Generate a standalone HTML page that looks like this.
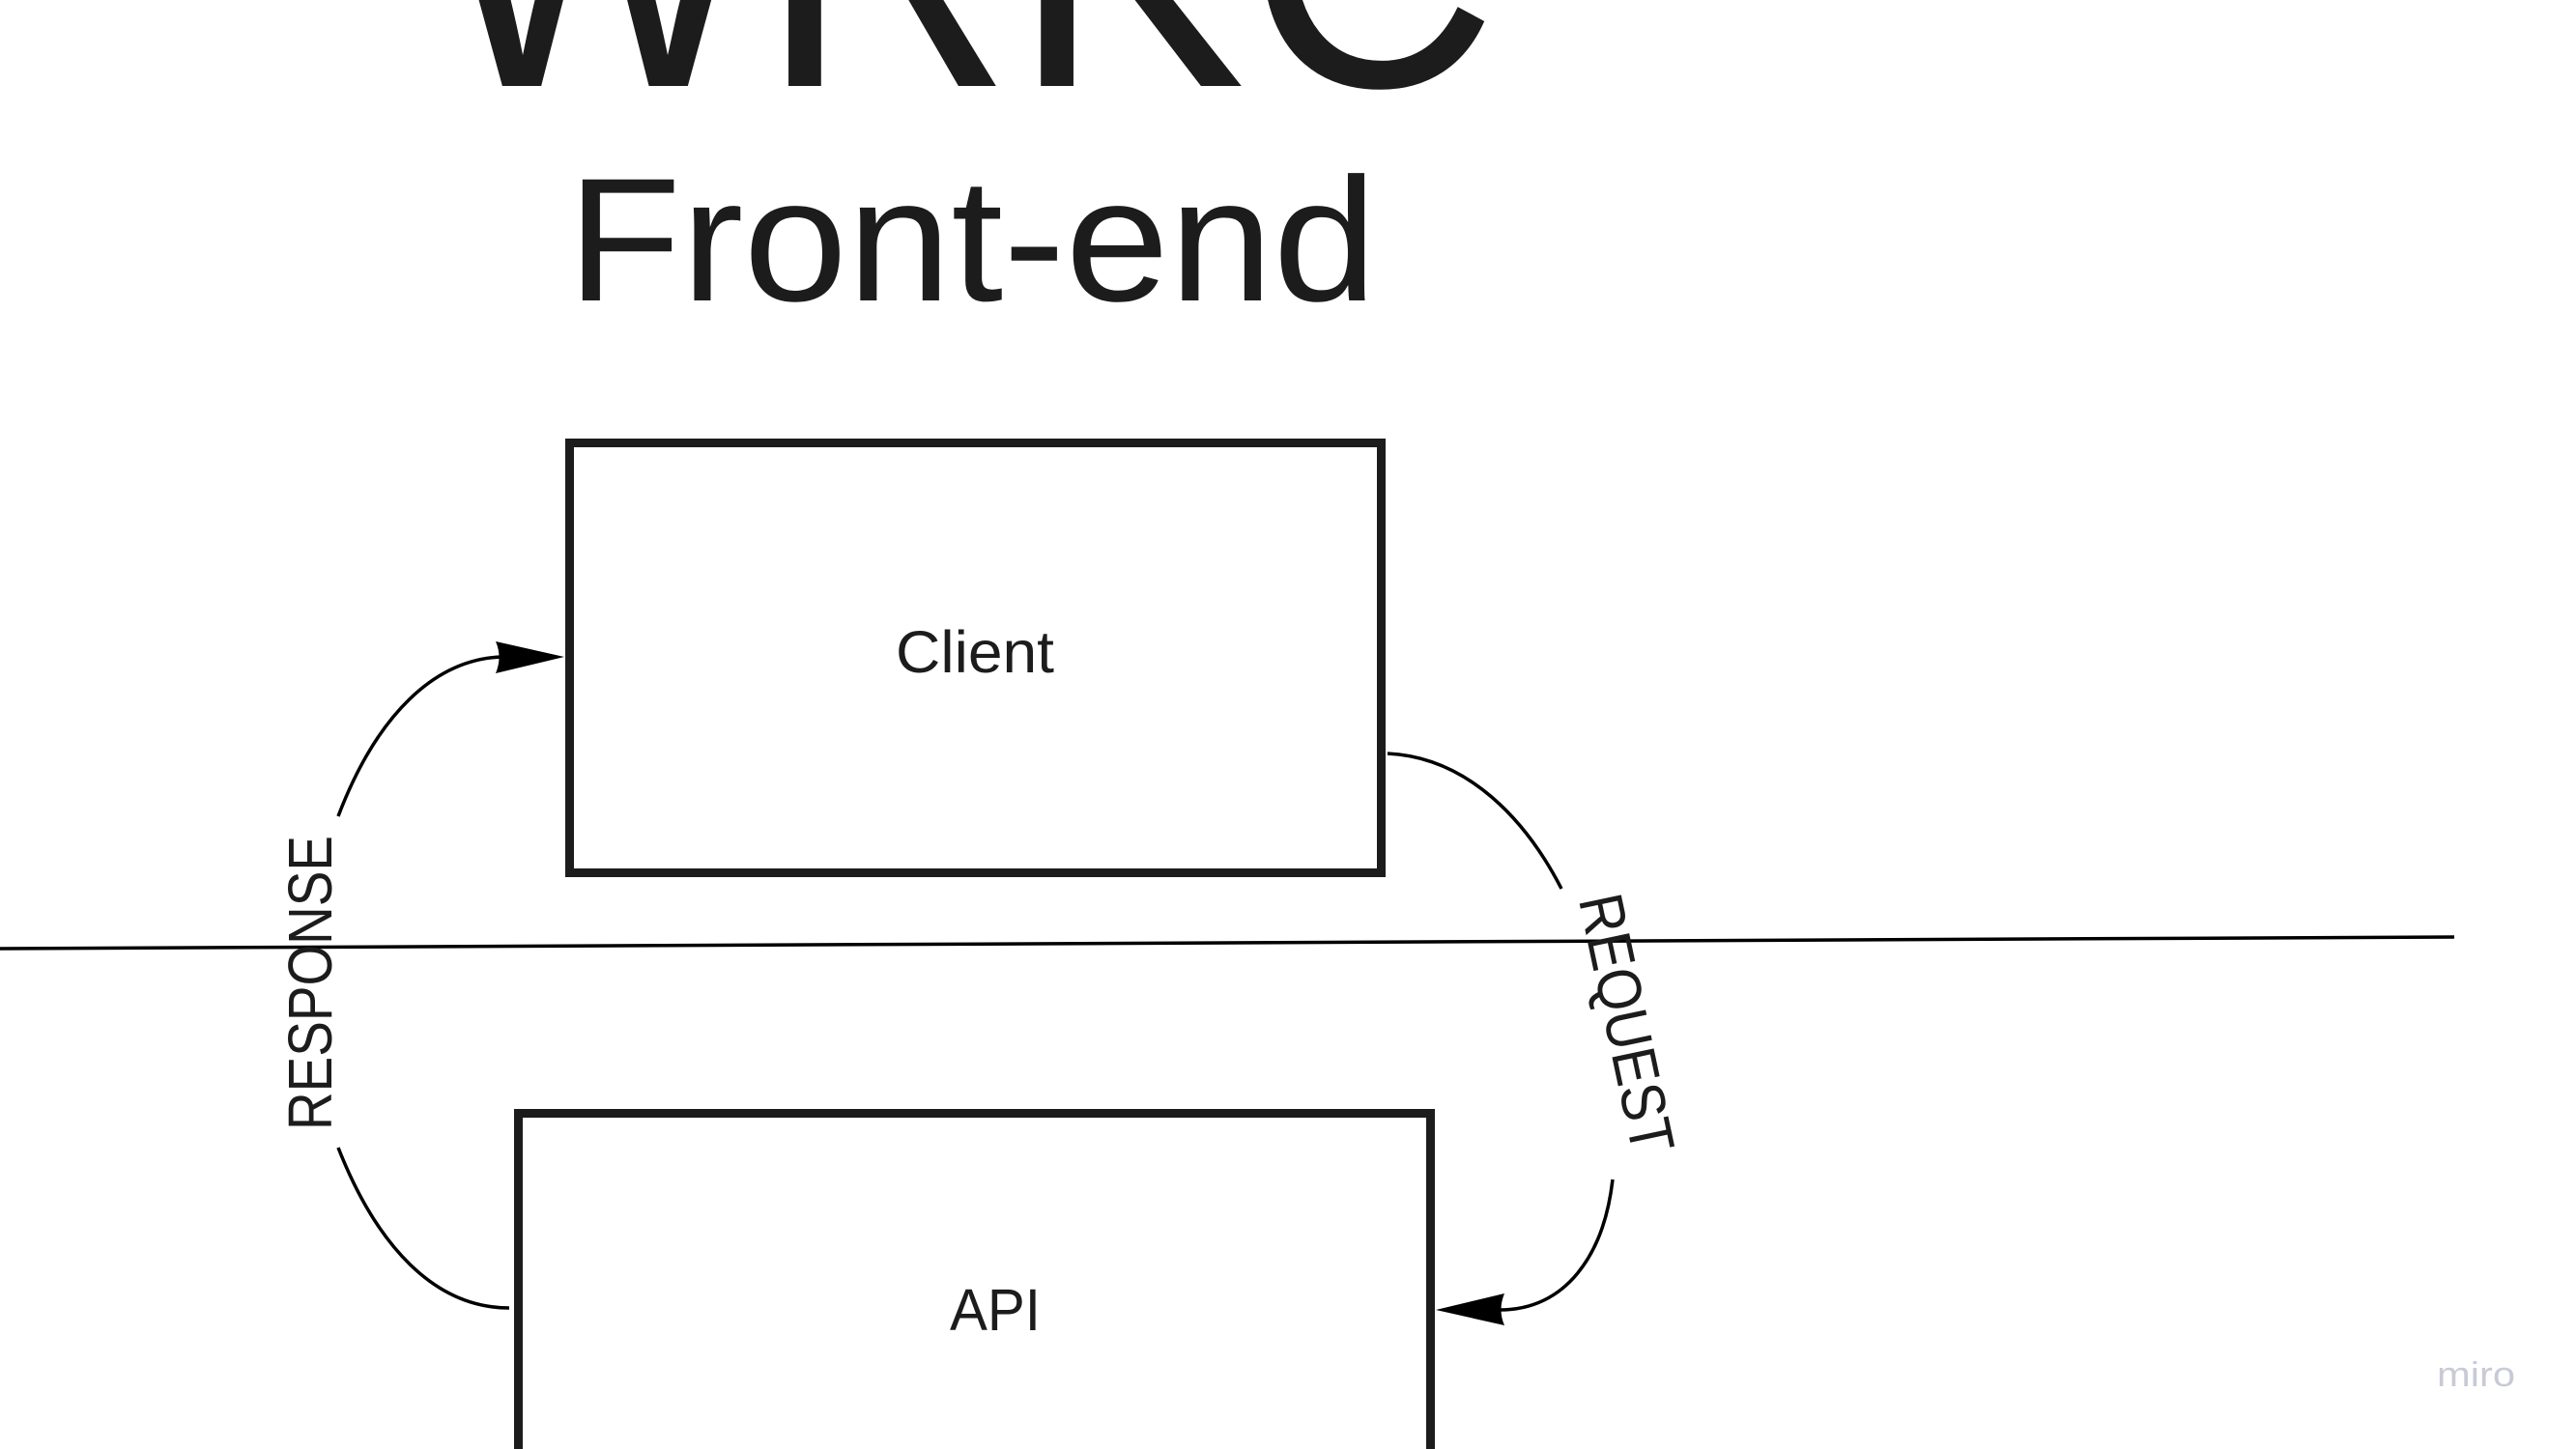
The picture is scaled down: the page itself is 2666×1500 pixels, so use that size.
<!DOCTYPE html>
<html><head><meta charset="utf-8"><style>
html,body{margin:0;padding:0;background:#fff;}
svg{display:block;}
text{font-family:"Liberation Sans",sans-serif;fill:#1c1c1c;}
</style></head><body>
<svg width="2666" height="1500" viewBox="0 0 2666 1500" xmlns="http://www.w3.org/2000/svg">
<text x="445" y="89" font-size="390" textLength="1105" lengthAdjust="spacingAndGlyphs">WRKC</text>
<text x="587" y="311" font-size="182" textLength="838" lengthAdjust="spacingAndGlyphs">Front-end</text>
<rect x="589.5" y="458.5" width="840" height="445" fill="none" stroke="#1c1c1c" stroke-width="9"/>
<rect x="536.5" y="1152.5" width="944" height="420" fill="none" stroke="#1c1c1c" stroke-width="9"/>
<text x="927" y="696" font-size="61" textLength="164" lengthAdjust="spacingAndGlyphs">Client</text>
<text x="983" y="1377" font-size="61" textLength="94" lengthAdjust="spacingAndGlyphs">API</text>
<line x1="0" y1="982" x2="2540" y2="970" stroke="#000" stroke-width="3.5"/>
<g fill="none" stroke="#000" stroke-width="3.5">
<path d="M350,845 C390,740 450,682 520,680"/>
<path d="M350,1188 C390,1290 450,1354 527,1354"/>
<path d="M1436,780 C1520,784 1580,850 1616,920"/>
<path d="M1669,1221 C1660,1300 1620,1356 1552,1356"/>
</g>
<path d="M584,680 L513,664 Q520,680 513,697 Z" fill="#000"/>
<path d="M1486,1356 L1557,1339 Q1550,1356 1557,1372 Z" fill="#000"/>
<text transform="translate(343,1170) rotate(-90)" font-size="64" textLength="305" lengthAdjust="spacingAndGlyphs">RESPONSE</text>
<text transform="translate(1662,1064) rotate(78)" font-size="64" text-anchor="middle" textLength="272" lengthAdjust="spacingAndGlyphs">REQUEST</text>
<text x="2522" y="1435" font-size="36" style="fill:#c8cad6" textLength="81" lengthAdjust="spacingAndGlyphs">miro</text>
</svg>
</body></html>
